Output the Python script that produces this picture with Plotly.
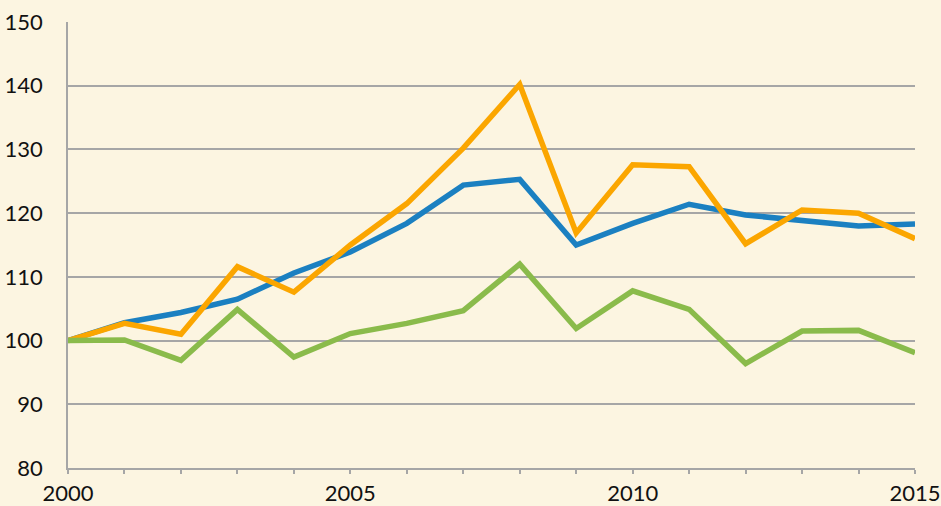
import plotly.graph_objects as go

years = list(range(2000, 2016))
blue = [100, 102.8, 104.4, 106.5, 110.6, 113.9, 118.4, 124.4, 125.3, 115.0, 118.4, 121.4, 119.7, 118.8, 118.0, 118.3]
orange = [100, 102.7, 101.0, 111.6, 107.6, 115.0, 121.5, 130.2, 140.2, 116.9, 127.6, 127.3, 115.2, 120.5, 120.0, 116.0]
green = [100, 100.1, 96.9, 104.9, 97.4, 101.1, 102.7, 104.7, 112.0, 101.9, 107.8, 104.9, 96.4, 101.5, 101.6, 98.1]

x_tickvals = [2000, 2005, 2010, 2015]
x_ticktext = ["2000", "2005", "2010", "2015"]
y_tickvals = [80, 90, 100, 110, 120, 130, 140, 150]

bg = "#FCF5E1"
grid = "#A6A6A6"

fig = go.Figure()
for vals, col in [(blue, "#1B80C1"), (orange, "#FBA600"), (green, "#8ABB4B")]:
    fig.add_trace(go.Scatter(x=years, y=vals, mode="lines",
                             line=dict(color=col, width=5.5, shape="linear"),
                             showlegend=False, hoverinfo="skip"))

fig.update_layout(
    width=941, height=506,
    margin=dict(l=68, r=26, t=22, b=38, autoexpand=False),
    paper_bgcolor=bg, plot_bgcolor=bg,
    font=dict(family="Lato, 'Open Sans', sans-serif", size=22, color="#111111"),
)
fig.update_xaxes(
    range=[2000, 2015], tickmode="array", tickvals=x_tickvals, ticktext=x_ticktext,
    showgrid=False, zeroline=False, automargin=False, ticklabeloverflow="allow",
    showline=True, linecolor=grid, linewidth=1.5,
    ticks="outside", ticklen=4, tickcolor=grid, tickwidth=1.5,
    minor=dict(dtick=1, tick0=2000, ticks="outside", ticklen=4, tickcolor=grid, tickwidth=1.5, showgrid=False),
    ticklabelstandoff=1,
)
fig.update_yaxes(
    range=[80, 150], tickmode="array", tickvals=y_tickvals,
    showgrid=True, gridcolor=grid, gridwidth=1.5, zeroline=False, automargin=False,
    ticklabeloverflow="allow",
    showline=True, linecolor=grid, linewidth=1.5,
    ticks="", ticklabelstandoff=19,
)
fig.write_html("out.html", config={"displayModeBar": False},
               post_script="document.body.style.margin='0';document.body.style.overflow='hidden';")
